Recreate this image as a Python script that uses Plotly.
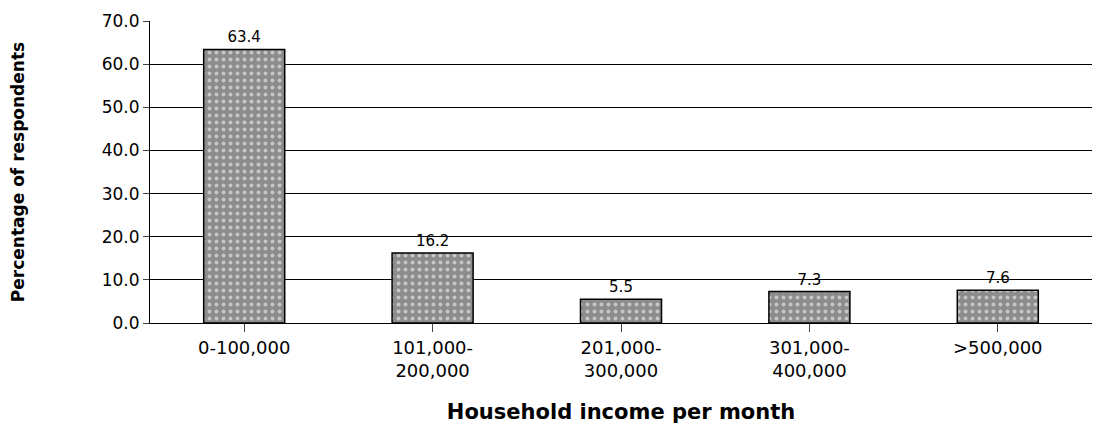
import plotly.graph_objects as go

categories = ["0-100,000", "101,000-<br>200,000", "201,000-<br>300,000", "301,000-<br>400,000", ">500,000"]
values = [63.4, 16.2, 5.5, 7.3, 7.6]
labels = ["63.4", "16.2", "5.5", "7.3", "7.6"]

fig = go.Figure(go.Bar(
    x=categories, y=values, text=labels, textposition="outside",
    textfont=dict(family="DejaVu Sans", size=15, color="black"),
    cliponaxis=False,
    marker=dict(color="#8c8c8c", line=dict(color="black", width=1.5),
                pattern=dict(shape=".", fgcolor="white", size=7, solidity=0.25)),
))
fig.update_layout(
    width=1106, height=428, plot_bgcolor="white", paper_bgcolor="white",
    margin=dict(l=142, r=22, t=13, b=113, autoexpand=False), bargap=0.57, showlegend=False,
    font=dict(family="DejaVu Sans", size=17, color="black"),
)
fig.update_xaxes(
    showline=True, linecolor="black", ticks="outside", ticklen=8, automargin=False,
    tickfont=dict(size=18),
    title=dict(text="<b>Household income per month</b>", font=dict(size=21), standoff=24),
)
fig.update_yaxes(
    range=[0, 70], dtick=10, tickformat=".1f", showgrid=True, gridcolor="black", gridwidth=1,
    showline=True, linecolor="black", ticks="outside", ticklen=6, automargin=False,
    tickfont=dict(size=17),
    title=dict(text="<b>Percentage of respondents</b>", font=dict(size=17), standoff=72),
)
fig.write_html("out.html")
